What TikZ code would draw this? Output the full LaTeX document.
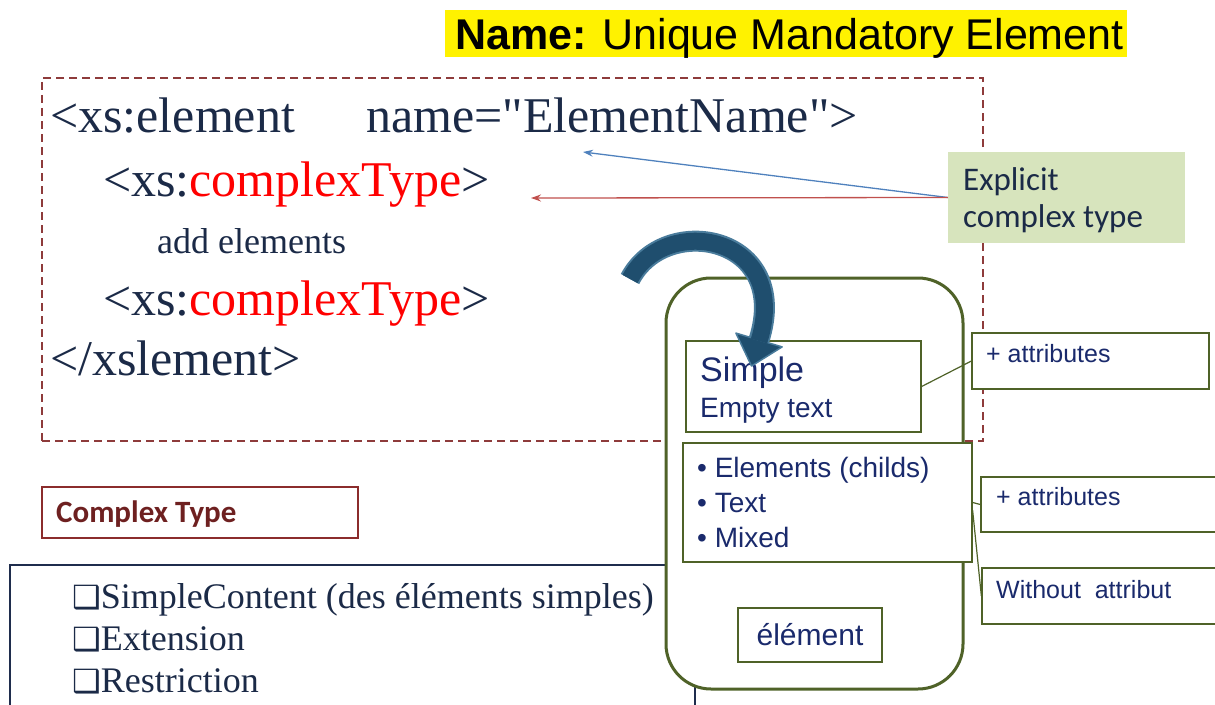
\documentclass[tikz,border=0pt]{standalone}
\usepackage{fontspec}
\setmainfont{Liberation Serif}
\newfontfamily\arialf{Liberation Sans}
\newfontfamily\calibrif{Carlito}
\newfontfamily\symf{DejaVu Sans}
\usetikzlibrary{arrows.meta}
\newcommand\fsz[1]{\fontsize{#1}{#1}\selectfont}

\definecolor{codeink}{HTML}{1B2A47}
\definecolor{dashred}{HTML}{8E3B3B}
\definecolor{olive}{HTML}{4F6228}
\definecolor{navyink}{HTML}{1A2A6C}
\definecolor{linkblue}{HTML}{4F81BD}
\definecolor{linkred}{HTML}{C0504D}
\definecolor{sagefill}{HTML}{D7E4BD}
\definecolor{maroonline}{HTML}{8B2C2C}
\definecolor{maroonink}{HTML}{6E2020}
\definecolor{bendfill}{HTML}{1F4E6E}
\definecolor{bendedge}{HTML}{4A7C9C}
\definecolor{listline}{HTML}{1F2D4D}

\tikzset{
  txt/.style={inner sep=0pt, anchor=base west},
  code/.style={txt, font=\fsz{50}, text=codeink},
  box/.style={draw=olive, line width=1.3pt, fill=white, inner sep=0pt},
  sidetxt/.style={txt, font=\arialf\fsz{25}, text=navyink},
  link/.style={draw=olive, line width=1.2pt},
}

\begin{document}
\begin{tikzpicture}[x=1pt, y=-1pt]
\useasboundingbox (0,0) rectangle (1215,704);

% heading with yellow highlight
\node[fill=yellow, minimum width=682pt, minimum height=47pt, inner sep=0pt] (hl) at (786,33.5) {};
\node[txt, font=\arialf\fsz{43}] (title) at (455,49) {\textbf{Name:} Unique Mandatory Element};

% dashed frame around the schema code
\node[draw=dashred, line width=1.3pt, dash pattern=on 8pt off 5pt,
      minimum width=941pt, minimum height=363pt, inner sep=0pt] (codebox) at (512.5,259.5) {};

\node[code] (c1) at (50,132) {<xs:element};
\node[code] (c1b) at (366,132) {name=\textquotedbl ElementName\textquotedbl>};
\node[code] (c2) at (103,196) {<xs:\textcolor{red}{complexType}>};
\node[txt, font=\fsz{36}, text=codeink] (c3) at (157,253) {add elements};
\node[code] (c4) at (103,315) {<xs:\textcolor{red}{complexType}>};
\node[code] (c5) at (50,375) {</xslement>};

% callout with its two arrows
\node[fill=sagefill, minimum width=237pt, minimum height=91pt, inner sep=0pt] (expl) at (1066.5,197.5) {};
\node[txt, font=\calibrif\fsz{33}, text=codeink] (expl1) at (963,190) {Explicit};
\node[txt, font=\calibrif\fsz{33}, text=codeink] (expl2) at (963,227) {complex type};
\coordinate (nametip) at (583,152);
\coordinate (typetip) at (531,198);
\draw[linkblue, line width=1.3pt, -{Stealth[length=10pt,width=7pt]}] (expl.west) -- (nametip);
\draw[linkred, line width=1.3pt, -{Stealth[length=10pt,width=7pt]}] (expl.west) -- (typetip);

% complex type heading and list
\node[draw=maroonline, line width=1.2pt, minimum width=316pt, minimum height=51pt, inner sep=0pt] (ctype) at (200,512.5) {};
\node[txt, font=\calibrif\bfseries\fsz{31}, text=maroonink] (ctypetxt) at (56,522) {Complex Type};
\node[draw=listline, line width=1.2pt, minimum width=685pt, minimum height=147pt, inner sep=0pt] (list) at (352.5,638.5) {};
\node[txt, font=\fsz{36}, text=codeink] (li1) at (72,608) {{\symf\fsz{32}❑}SimpleContent (des éléments simples)};
\node[txt, font=\fsz{36}, text=codeink] (li2) at (72,650) {{\symf\fsz{32}❑}Extension};
\node[txt, font=\fsz{36}, text=codeink] (li3) at (72,692) {{\symf\fsz{32}❑}Restriction};

% rounded container
\node[draw=olive, line width=3pt, fill=white, rounded corners=45pt,
      minimum width=297pt, minimum height=411pt, inner sep=0pt] (frame) at (814.5,483.5) {};

% inner boxes
\node[box] (simple) [minimum width=235pt, minimum height=91pt] at (803.5,386.5) {};
\node[txt, font=\arialf\fsz{34}, text=navyink] (simple1) at (700,381) {Simple};
\node[txt, font=\arialf\fsz{28}, text=navyink] (simple2) at (700,417) {Empty text};

\node[box] (bullets) [minimum width=289pt, minimum height=119pt] at (827.5,502.5) {};
\node[txt, font=\arialf\fsz{28}, text=navyink] (b1) at (697,477) {• Elements (childs)};
\node[txt, font=\arialf\fsz{28}, text=navyink] (b2) at (697,512) {• Text};
\node[txt, font=\arialf\fsz{28}, text=navyink] (b3) at (697,547) {• Mixed};

\node[box] (elem) [minimum width=144pt, minimum height=54pt] at (810,635) {};
\node[inner sep=0pt, font=\arialf\fsz{30}, text=navyink] (elemtxt) at (elem.center) {élément};

% side boxes
\node[box] (attr1) [minimum width=237pt, minimum height=56pt] at (1090.5,361) {};
\node[sidetxt] (attr1txt) at (986,362) {+ attributes};
\node[box] (attr2) [minimum width=239pt, minimum height=55pt] at (1100.5,504.5) {};
\node[sidetxt] (attr2txt) at (996,505) {+ attributes};
\node[box] (noattr) [minimum width=238pt, minimum height=56pt] at (1101,596) {};
\node[sidetxt] (noattrtxt) at (996,598) {Without\ \ attribut};

\draw[link] (simple.east) -- (attr1.west);
\draw[link] (bullets.east) -- (attr2.west);
\draw[link] ([yshift=-8pt]bullets.east) -- (noattr.west);

% bent block arrow into the container
\draw[bendedge, line width=21pt] (630,279) .. controls (665,212) and (792,235) .. (759,340);
\draw[bendedge, fill=bendfill, line width=1.5pt, line join=round] (735.9,333.1) -- (782.1,346.9) -- (751.5,366) -- cycle;
\draw[bendfill, line width=17pt] (630,279) .. controls (665,212) and (792,235) .. (759,341);
\end{tikzpicture}
\end{document}
